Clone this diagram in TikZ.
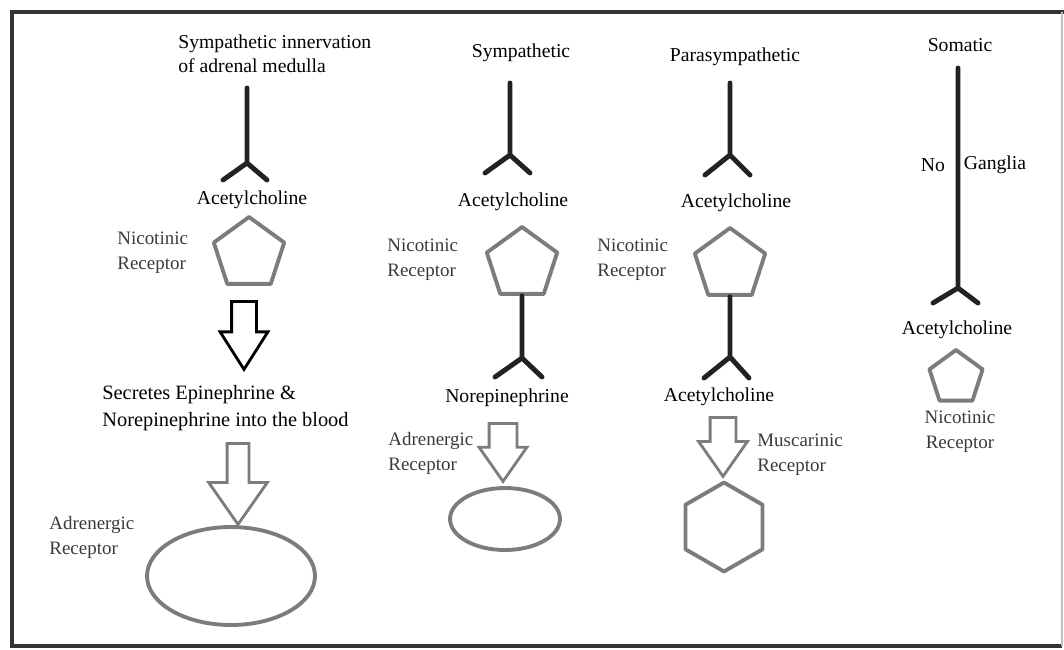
\documentclass[tikz,border=0pt]{standalone}
\usepackage{fontspec}
\setmainfont{Liberation Serif}
\usepackage{tikz}
\usetikzlibrary{shapes.geometric,shapes.arrows}
\definecolor{axonblack}{HTML}{222222}
\definecolor{rcptgray}{HTML}{7C7C7C}
\definecolor{labgray}{HTML}{3A3A3A}
\definecolor{framedark}{HTML}{333333}

\begin{document}
\begin{tikzpicture}[x=0.02cm,y=-0.02cm,
  font=\fontsize{11.2}{13.6}\selectfont,
  txt/.style={inner sep=0pt,align=center,text=black},
  lab/.style={inner sep=0pt,align=left,text=labgray,font=\fontsize{10.8}{14.2}\selectfont},
  axon/.style={draw=axonblack,line width=2.8pt,line cap=round,line join=round},
  rcpt/.style={draw=rcptgray,line width=2.2pt,inner sep=0pt,line join=round},
  penta/.style={rcpt,regular polygon,regular polygon sides=5,minimum size=1.48cm},
  fat/.style={single arrow,draw,line width=1.6pt,shape border rotate=270,
    single arrow tip angle=70,anchor=tail,line join=miter}]
  \useasboundingbox (0,0) rectangle (1064,649);
  % frame
  \draw[framedark,line width=2.8pt] (1064,12) -- (12,12) -- (12,646) -- (1062,646);
  \draw[black!25,line width=0.6pt] (1062,12) -- (1062,646);

  % adrenal medulla
  \node[txt,align=left,anchor=west] (t1) at (178,54) {Sympathetic innervation\\of adrenal medulla};
  \coordinate (ax1) at (247,88);
  \coordinate (k1) at (247,163);
  \draw[axon] (ax1) -- (k1) -- ++(-24,17) (k1) -- ++(20,17);
  \node[txt] (ach1) at (252,200) {Acetylcholine};
  \node[lab,anchor=west] (nic1) at (117,253) {Nicotinic\\Receptor};
  \node[penta] (p1) at (249,254) {};
  \node[fat,draw=black,inner sep=0.22cm,minimum height=1.36cm,minimum width=0.9cm,single arrow head extend=0.23cm,
    single arrow tip angle=65] (f1) at (244,300) {};
  \node[txt,align=left,anchor=west,font=\fontsize{11.6}{15.2}\selectfont] (sec) at (102,408)
    {Secretes Epinephrine \&\\Norepinephrine into the blood};
  \node[fat,draw=rcptgray,inner sep=0.19cm,minimum height=1.62cm,minimum width=1.12cm,single arrow head extend=0.37cm] (f2) at (238,442) {};
  \node[lab,anchor=west] (adr1) at (49,537) {Adrenergic\\Receptor};
  \node[rcpt,ellipse,minimum width=3.36cm,minimum height=1.96cm] (e1) at (231,576) {};

  % sympathetic
  \node[txt] (t2) at (521,53) {Sympathetic};
  \coordinate (ax2) at (510,83);
  \coordinate (k2) at (510,155);
  \draw[axon] (ax2) -- (k2) -- ++(-25,18) (k2) -- ++(20,18);
  \node[txt] (ach2) at (513,202) {Acetylcholine};
  \node[lab,anchor=west] (nic2) at (387,260) {Nicotinic\\Receptor};
  \node[penta] (p2) at (522,264) {};
  \coordinate (k2b) at (522,358);
  \draw[axon] (p2.south) -- (k2b) -- ++(-27,19) (k2b) -- ++(20,19);
  \node[txt] (nor2) at (507,398) {Norepinephrine};
  \node[lab,anchor=west] (adr2) at (388,453) {Adrenergic\\Receptor};
  \node[fat,draw=rcptgray,inner sep=0.25cm,minimum height=1.16cm,minimum width=0.9cm,single arrow head extend=0.2cm] (f3) at (503,422) {};
  \node[rcpt,ellipse,minimum width=2.2cm,minimum height=1.24cm] (e2) at (505,519) {};

  % parasympathetic
  \node[txt] (t3) at (735,57) {Parasympathetic};
  \coordinate (ax3) at (730,83);
  \coordinate (k3) at (730,155);
  \draw[axon] (ax3) -- (k3) -- ++(-25,20) (k3) -- ++(20,20);
  \node[txt] (ach3) at (736,203) {Acetylcholine};
  \node[lab,anchor=west] (nic3) at (597,260) {Nicotinic\\Receptor};
  \node[penta] (p3) at (730,265) {};
  \coordinate (k3b) at (730,357);
  \draw[axon] (p3.south) -- (k3b) -- ++(-26,21) (k3b) -- ++(19,21);
  \node[txt] (ach3b) at (719,397) {Acetylcholine};
  \node[fat,draw=rcptgray,inner sep=0.23cm,minimum height=1.18cm,minimum width=0.92cm,single arrow head extend=0.23cm] (f4) at (723,416) {};
  \node[lab,anchor=west] (mus3) at (757,455) {Muscarinic\\Receptor};
  \node[rcpt,regular polygon,regular polygon sides=6,shape border rotate=30,minimum size=1.78cm] (h3) at (724,527) {};

  % somatic
  \node[txt] (t4) at (960,45) {Somatic};
  \coordinate (ax4) at (958,68);
  \coordinate (k4) at (958,288);
  \draw[axon] (ax4) -- (k4) -- ++(-25,15) (k4) -- ++(20,15);
  \node[txt] (no4) at (933,165) {No};
  \node[txt] (gang4) at (995,165) {Ganglia};
  \node[txt] (ach4) at (957,330) {Acetylcholine};
  \node[penta,minimum size=1.12cm] (p4) at (956,378) {};
  \node[lab,align=center] (nic4) at (960,432) {Nicotinic\\Receptor};
\end{tikzpicture}
\end{document}
